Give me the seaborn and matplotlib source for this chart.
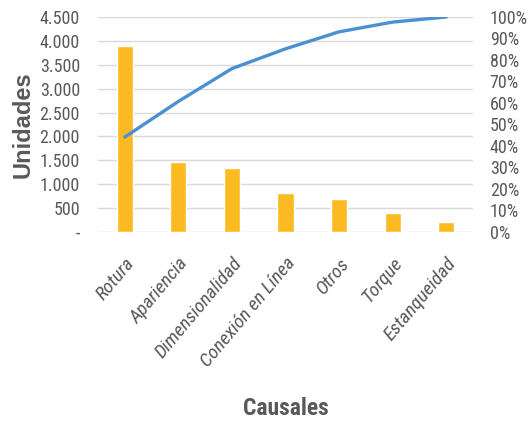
import matplotlib
matplotlib.use("Agg")
import matplotlib.pyplot as plt
import numpy as np
import pandas as pd
import seaborn as sns

causales = ["Rotura", "Apariencia", "Dimensionalidad", "Conexión en Línea",
            "Otros", "Torque", "Estanqueidad"]
unidades = [3890, 1460, 1346, 810, 697, 398, 209]
y_ticks = [0, 500, 1000, 1500, 2000, 2500, 3000, 3500, 4000, 4500]
pct_ticks = [0, 10, 20, 30, 40, 50, 60, 70, 80, 90, 100]

df = pd.DataFrame({"Causales": causales, "Unidades": unidades})
# cumulative share of each cause (Pareto curve)
df["Acumulado"] = df["Unidades"].cumsum() / df["Unidades"].sum() * 100

sns.set_theme(style="white")
plt.rcParams["font.family"] = ["Roboto Condensed", "DejaVu Sans"]
text_color = "#595959"

fig = plt.figure(figsize=(5.31, 4.21), dpi=100)
ax = fig.add_axes([98 / 531, 1 - 232 / 421, (473 - 98) / 531, (232 - 17) / 421])

sns.barplot(data=df, x="Causales", y="Unidades", color="#FBBA22",
            saturation=1, width=0.3, ax=ax, zorder=2)
ax.set_ylim(0, 4500)
ax.set_xlim(-0.5, len(causales) - 0.5)
ax.set_yticks(y_ticks)
ax.set_yticklabels(["-" if v == 0 else f"{v:,}".replace(",", ".") for v in y_ticks],
                   fontsize=13, color=text_color)
ax.yaxis.grid(True, color="#D9D9D9", linewidth=1.0, zorder=0)
ax.set_axisbelow(True)
ax.tick_params(axis="y", length=0, pad=13)
ax.tick_params(axis="x", length=0, pad=16)
ax.set_xticks(range(len(causales)))
ax.set_xticklabels(causales, rotation=50, ha="right", rotation_mode="anchor",
                   fontsize=14, color=text_color, fontstyle="italic")
ax.set_xlabel("Causales", fontsize=17, fontweight="bold", color=text_color)
ax.xaxis.set_label_coords(0.5, -(397 - 232) / 215)
ax.set_ylabel("Unidades", fontsize=17, fontweight="bold", color=text_color,
              family=["Liberation Sans", "DejaVu Sans"])
ax.yaxis.set_label_coords(-(98 - 35) / 375, 0.5)
for s in ax.spines.values():
    s.set_visible(False)

ax2 = ax.twinx()
sns.lineplot(x=np.arange(len(causales)), y=df["Acumulado"].values, ax=ax2,
             color="#4A90D2", linewidth=2.4)
ax2.set_ylim(0, 100)
ax2.set_xlim(-0.5, len(causales) - 0.5)
ax2.set_yticks(pct_ticks)
ax2.set_yticklabels([f"{v}%" for v in pct_ticks], fontsize=13, color=text_color)
ax2.tick_params(axis="y", length=0, pad=12)
ax2.grid(False)
for s in ax2.spines.values():
    s.set_visible(False)

fig.savefig("out.png", dpi=100)
